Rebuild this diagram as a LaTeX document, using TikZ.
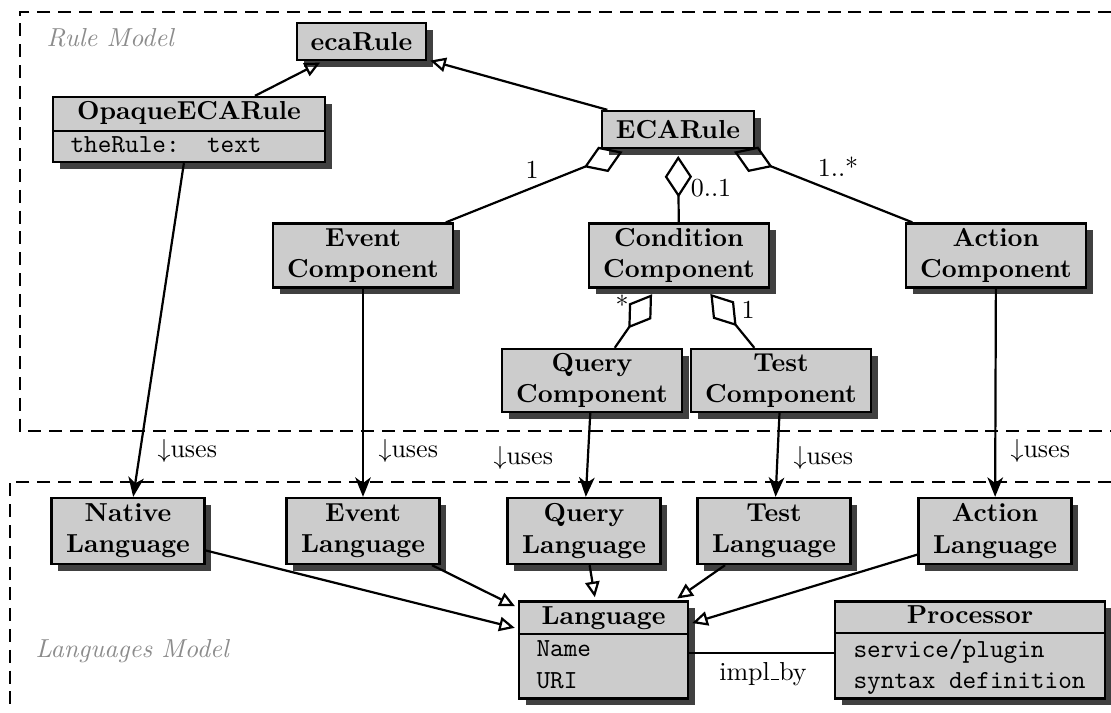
\documentclass[tikz,border=0pt]{standalone}
\usetikzlibrary{arrows.meta,shadows}
\newdimen\PX
\PX=0.3846pt
\newcommand{\lowbar}{\leavevmode\kern.06em\vbox{\hrule width .3em}}
\begin{document}
\begin{tikzpicture}[x=0.3846pt,y=-0.3846pt,
  cls/.style={draw=black, line width=0.9pt, fill=black!20,
    drop shadow={shadow xshift=2.6pt, shadow yshift=-2.6pt, fill=black!75, opacity=1},
    inner sep=0pt},
  box/.style={cls, align=center, font=\bfseries, minimum width=180\PX, minimum height=64\PX},
  lbox/.style={box, minimum width=153\PX, minimum height=66\PX},
  hdr/.style={anchor=base, inner sep=0pt, font=\bfseries},
  attr/.style={anchor=base west, inner sep=0pt, font=\ttfamily},
  conn/.style={line width=0.85pt},
  gen/.style={conn, -{Triangle[open,length=6pt,width=5.5pt]}, shorten >=1.2pt},
  agg/.style={conn, {Diamond[open,length=16pt,width=10.5pt]}-, shorten <=2.6pt},
  uses/.style={conn, -{Stealth[length=7.5pt,width=6pt,inset=2.2pt]}},
  lbl/.style={inner sep=0pt},
  model/.style={anchor=base west, inner sep=0pt, font=\itshape, text=black!45},
  region/.style={line width=0.9pt, dash pattern=on 5pt off 3pt}
]
\useasboundingbox (0,0) rectangle (1111,712);
% regions
\draw[region] (1111,12) -- (20,12) -- (20,431) -- (1111,431);
\draw[region] (1111,482) -- (10,482) -- (10,712);
\node[model] (rulemodel) at (46,47) {Rule Model};
\node[model] (langmodel) at (35,657) {Languages Model};

% rule model classes
\node[box, minimum width=129\PX, minimum height=37\PX] (eca) at (361.5,41.5) {ecaRule};
\node[cls, minimum width=272\PX, minimum height=65\PX] (opq) at (189,129.5) {};
\draw[conn] (opq.west |- 0,131) -- (opq.east |- 0,131);
\node[hdr] (opqh) at (189,120) {OpaqueECARule};
\node[attr] (opqa) at (70,153) {\frenchspacing theRule:\ \ text};
\node[box, minimum width=152\PX, minimum height=37\PX] (ECA) at (678,129.5) {ECARule};
\node[box] (evc) at (363,255.5) {Event\\Component};
\node[box] (cond) at (679,255.5) {Condition\\Component};
\node[box] (act) at (996,255.5) {Action\\Component};
\node[box, minimum height=63\PX] (qc) at (592,380.5) {Query\\Component};
\node[box, minimum height=63\PX] (tc) at (781,380.5) {Test\\Component};

% languages
\node[lbox] (nl) at (128,531) {Native\\Language};
\node[lbox] (evl) at (363,531) {Event\\Language};
\node[lbox] (ql) at (584,531) {Query\\Language};
\node[lbox] (tl) at (774,531) {Test\\Language};
\node[lbox] (al) at (995,531) {Action\\Language};

\node[cls, minimum width=169\PX, minimum height=97\PX] (lang) at (603.5,650) {};
\draw[conn] (lang.west |- 0,634) -- (lang.east |- 0,634);
\node[hdr] (langh) at (603.5,624) {Language};
\node[attr] (langa) at (536,656) {Name};
\node[attr] (langb) at (536,688) {URI};

\node[cls, minimum width=270\PX, minimum height=97\PX] (proc) at (970,650) {};
\draw[conn] (proc.west |- 0,633) -- (proc.east |- 0,633);
\node[hdr] (proch) at (970,623) {Processor};
\node[attr] (proca) at (853,657) {service/plugin};
\node[attr] (procb) at (853,688) {syntax definition};

% generalizations
\draw[gen] (opq) -- (eca);
\draw[gen] (ECA) -- (eca);
\draw[gen] (nl) -- (lang);
\draw[gen] (evl) -- (lang);
\draw[gen] (ql) -- (lang);
\draw[gen] (tl) -- (lang);
\draw[gen] (al) -- (lang);

% aggregations
\draw[agg] (ECA) -- (evc);
\draw[agg] (ECA) -- (cond);
\draw[agg] (ECA) -- (act);
\draw[agg] (cond) -- (qc);
\draw[agg] (cond) -- (tc);
\node[lbl] (m1) at (532,170) {1};
\node[lbl] (m2) at (711,188) {0..1};
\node[lbl] (m3) at (838,167) {1..*};
\node[lbl] (m4) at (622,305) {*};
\node[lbl] (m5) at (748,310) {1};

% uses
\draw[uses] (opq) -- (nl);
\draw[uses] (evc) -- (evl);
\draw[uses] (qc) -- (ql);
\draw[uses] (tc) -- (tl);
\draw[uses] (act) -- (al);
\node[lbl, anchor=west] (u1) at (157,451) {$\downarrow$uses};
\node[lbl, anchor=west] (u2) at (378,451) {$\downarrow$uses};
\node[lbl, anchor=west] (u3) at (493,458) {$\downarrow$uses};
\node[lbl, anchor=west] (u4) at (793,458) {$\downarrow$uses};
\node[lbl, anchor=west] (u5) at (1010,451) {$\downarrow$uses};

% implementation
\draw[conn] ([yshift=-1.2pt]lang.east) -- ([yshift=-1.2pt]proc.west);
\node[lbl, anchor=base] (impl) at (763,680) {impl\lowbar by};
\end{tikzpicture}
\end{document}
